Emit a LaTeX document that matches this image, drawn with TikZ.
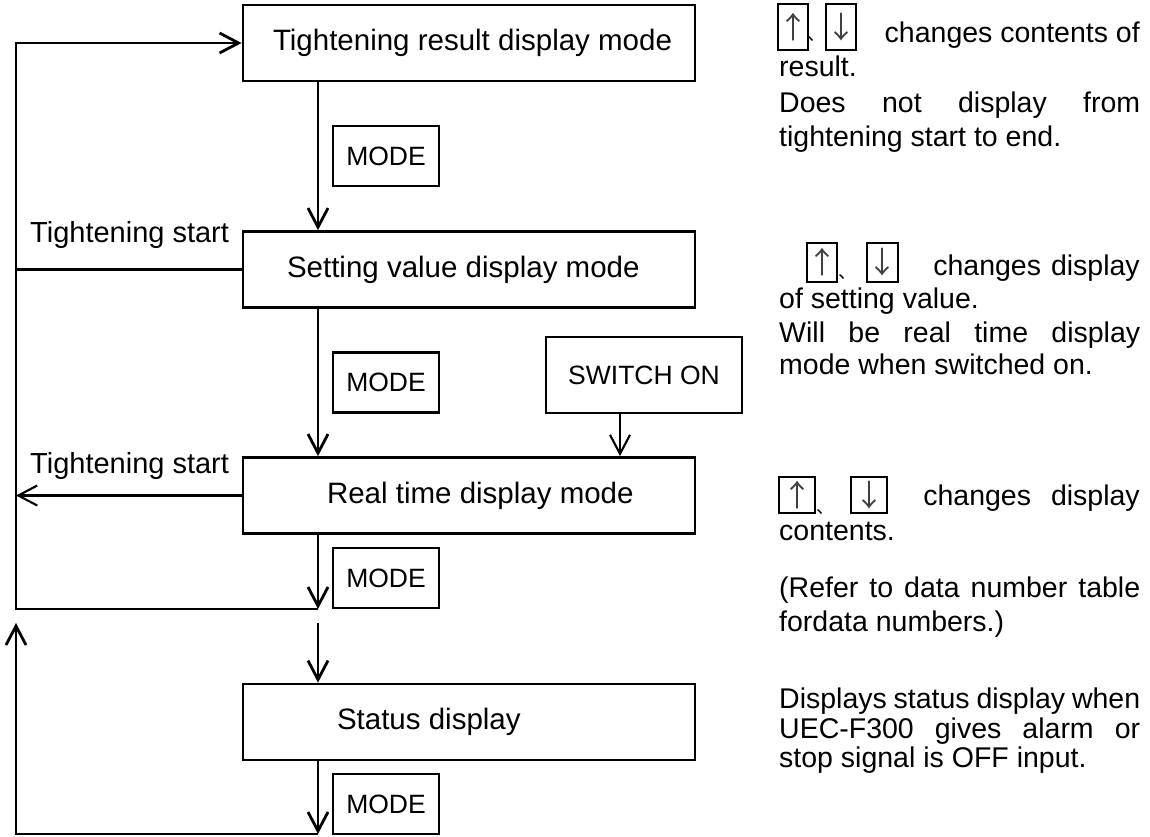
\documentclass[tikz,border=0pt]{standalone}
\usepackage{fontspec}
\setmainfont{Liberation Sans}
\newfontfamily\cjk{Noto Sans CJK JP}
\usetikzlibrary{arrows.meta,calc}
\begin{document}
\begin{tikzpicture}[x=1pt,y=-1pt,
  mainbox/.style={draw, line width=2.8pt, minimum width=452pt, minimum height=76pt, inner sep=0pt, font=\fontsize{29.5}{34}\selectfont},
  modebox/.style={draw, line width=2.6pt, minimum width=106pt, minimum height=60pt, inner sep=0pt, font=\fontsize{26.5}{30}\selectfont},
  lab/.style={inner sep=0pt, font=\fontsize{29}{34}\selectfont},
  rt/.style={inner sep=0pt, font=\fontsize{28.5}{34}\selectfont},
  keycap/.style={draw, line width=1.5pt, inner sep=0pt, text=black!75, font=\cjk\fontsize{30}{34}\selectfont},
  comma/.style={inner sep=0pt, font=\cjk\fontsize{18}{22}\selectfont},
  conn/.style={line width=2.8pt, line join=miter, -{Straight Barb[length=19pt,width=20pt]}},
  thinconn/.style={line width=2.1pt, line join=miter, -{Straight Barb[length=19pt,width=20pt]}},
  plain/.style={line width=2.1pt},
]
\useasboundingbox (0,0) rectangle (1150,836);

% main boxes
\node[mainbox] (b1) at (469,43)    {\makebox[452pt][l]{\hspace*{30pt}Tightening result display mode}};
\node[mainbox] (b2) at (469,269.5) {\makebox[452pt][l]{\hspace*{44pt}Setting value display mode}};
\node[mainbox] (b3) at (469,495.5) {\makebox[452pt][l]{\hspace*{84pt}Real time display mode}};
\node[mainbox] (b4) at (469,722)   {\makebox[452pt][l]{\hspace*{94pt}Status display}};

% key boxes
\node[modebox] (m1) at (386,156)   {MODE};
\node[modebox] (m2) at (386,382.5) {MODE};
\node[modebox] (m3) at (386,578)   {MODE};
\node[modebox] (m4) at (386,804)   {MODE};
\node[modebox, minimum width=196pt, minimum height=76pt] (sw) at (644,375) {SWITCH ON};

% left labels
\node[lab, anchor=base west] (t1) at (30,242) {Tightening start};
\node[lab, anchor=base west] (t2) at (30,473) {Tightening start};

% coordinates
\coordinate (vx) at (318,0);
\coordinate (sx) at (620,0);
\coordinate (c1) at (318,609);
\coordinate (L1) at (16,609);
\coordinate (L2) at (16,43);
\coordinate (T2) at (16,269.5);
\coordinate (T3) at (16,495.5);
\coordinate (c2) at (318,623);
\coordinate (c3) at (318,834);
\coordinate (c4) at (16,834);
\coordinate (c5) at (16,623);

% connectors
\draw[conn] (b1.south -| vx) -- (b2.north -| vx);
\draw[conn] (b2.south -| vx) -- (b3.north -| vx);
\draw[thinconn] (sw.south -| sx) -- (b3.north -| sx);
\draw[conn] (b3.south -| vx) -- (c1);
\draw[conn] (c1) -- (L1) -- (L2) -- (b1.west);
\draw[plain] (b2.west) -- (T2);
\draw[thinconn] (b3.west) -- (T3);
\draw[conn] (c2) -- (b4.north -| vx);
\draw[conn] (b4.south -| vx) -- (c3);
\draw[conn] (c3) -- (c4) -- (c5);

% right-hand notes, block 1
\node[keycap, minimum width=28pt, minimum height=46pt] (k1a) at (793,27) {↑};
\node[comma, anchor=base west] (q1) at (807,40) {、};
\node[keycap, minimum width=30pt, minimum height=46pt] (k1b) at (841,27) {↓};
\node[rt, anchor=base east] (r1a) at (1140,42) {changes contents of};
\node[rt, anchor=base west] (r1b) at (779,76) {result.};
\node[rt, anchor=base west] (r1c) at (779,112) {\hbox to 361pt{Does\hfill not\hfill display\hfill from}};
\node[rt, anchor=base west] (r1d) at (779,146) {tightening start to end.};

% block 2
\node[keycap, minimum width=30pt, minimum height=39pt] (k2a) at (822,262.5) {↑};
\node[comma, anchor=base west] (q2) at (838,278) {、};
\node[keycap, minimum width=31pt, minimum height=39pt] (k2b) at (882.5,262.5) {↓};
\node[rt, anchor=base east] (r2a) at (1140,275) {changes\hspace{10pt}display};
\node[rt, anchor=base west] (r2b) at (779,308) {of setting value.};
\node[rt, anchor=base west] (r2c) at (779,342) {\hbox to 361pt{Will\hfill be\hfill real\hfill time\hfill display}};
\node[rt, anchor=base west] (r2d) at (779,374) {mode when switched on.};

% block 3
\node[keycap, minimum width=36pt, minimum height=36pt] (k3a) at (797,495) {↑};
\node[comma, anchor=base west] (q3) at (816,513) {、};
\node[keycap, minimum width=36pt, minimum height=36pt] (k3b) at (869,495) {↓};
\node[rt, anchor=base east] (r3a) at (1140,505) {changes\hspace{20pt}display};
\node[rt, anchor=base west] (r3b) at (779,540) {contents.};
\node[rt, anchor=base west] (r3c) at (779,597) {\hbox to 361pt{(Refer\hfill to\hfill data\hfill number\hfill table}};
\node[rt, anchor=base west] (r3d) at (779,631) {fordata numbers.)};

% block 4
\node[rt, anchor=base west] (r4a) at (779,708) {\hbox to 361pt{Displays\hfill status\hfill display\hfill when}};
\node[rt, anchor=base west] (r4b) at (779,738) {\hbox to 361pt{UEC-F300\hfill gives\hfill alarm\hfill or}};
\node[rt, anchor=base west] (r4c) at (779,767) {stop signal is OFF input.};
\end{tikzpicture}
\end{document}
